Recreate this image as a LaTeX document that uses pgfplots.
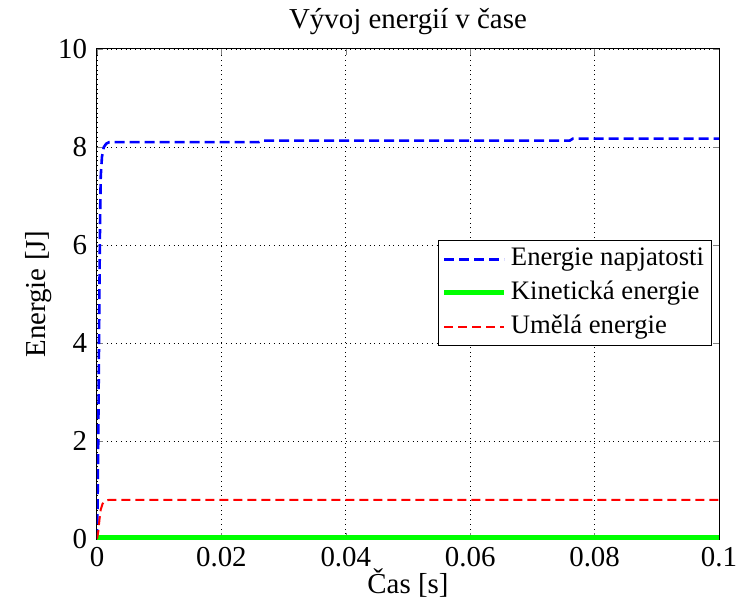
\documentclass[border=0pt]{standalone}
\usepackage{fontspec}
\setmainfont{Liberation Serif}
\usepackage{pgfplots}
\pgfplotsset{compat=1.18}
\begin{document}
\fontsize{14.5}{16}\selectfont
\begin{tikzpicture}
\useasboundingbox (-48.5bp,-32bp) rectangle (326bp,269.5bp);
\begin{axis}[
    at={(0,0)}, anchor=south west,
    scale only axis,
    width=311bp, height=245bp,
    xmin=0, xmax=0.1, ymin=0, ymax=10,
    xtick={0,0.02,0.04,0.06,0.08,0.1},
    xticklabels={0,0.02,0.04,0.06,0.08,0.1},
    ytick={0,2,4,6,8,10},
    scaled ticks=false,
    /pgf/number format/assume math mode=true,
    tick align=inside,
    major tick length=3bp,
    xtick pos=both, ytick pos=both,
    grid=major,
    major grid style={black, dotted, line width=0.4pt},
    axis line style={black, line width=0.5pt},
    title={Vývoj energií v čase},
    xlabel={Čas [s]},
    ylabel={Energie [J]},
    xlabel style={yshift=9bp},
    ylabel style={yshift=-6.5bp},
    title style={yshift=-4bp},
    xticklabel style={yshift=1bp},
    tick label style={font=\fontsize{14.5}{16}\selectfont},
    legend style={at={(0.989,0.61)}, anchor=north east, draw=black, fill=white,
        line width=0.6pt, font=\fontsize{13.4}{15}\selectfont,
        row sep=1.5bp, inner sep=1.8bp},
    legend cell align=left,
    legend image code/.code={\draw[#1] (0bp,0bp) -- (30bp,0bp);},
]
\addplot[color={rgb,255:red,0;green,0;blue,255}, line width=1.3bp, dash pattern=on 5bp off 2.5bp] coordinates {
(0,0) (0.0001,0.8) (0.0002,2) (0.0003,3.6) (0.0004,5.2) (0.0005,6.6) (0.0006,7.4) (0.0008,7.8) (0.0011,8.0) (0.0015,8.07) (0.002,8.1) (0.026,8.1) (0.0265,8.13) (0.076,8.13) (0.0765,8.17) (0.1,8.17)};
\addplot[color={rgb,255:red,0;green,255;blue,0}, line width=2.6bp] coordinates {
(0,0.02) (0.1,0.02)};
\addplot[color={rgb,255:red,255;green,0;blue,0}, line width=1bp, dash pattern=on 4.5bp off 2.5bp] coordinates {
(0,0) (0.0002,0.15) (0.0004,0.4) (0.0006,0.6) (0.0009,0.72) (0.0013,0.78) (0.002,0.8) (0.1,0.8)};
\legend{Energie napjatosti, Kinetická energie, Umělá energie}
\end{axis}
\end{tikzpicture}
\end{document}
